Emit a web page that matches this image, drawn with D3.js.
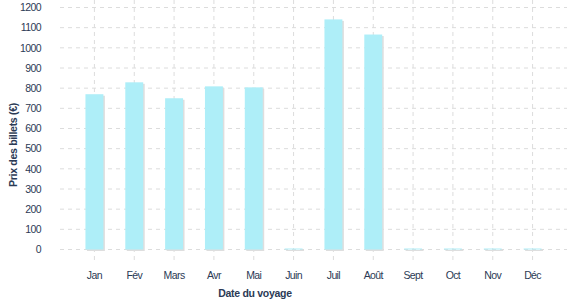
<!DOCTYPE html>
<html>
<head>
<meta charset="utf-8">
<script src="https://cdn.jsdelivr.net/npm/d3@7"></script>
<style>
  body { margin: 0; background: #fff; }
  text { font-family: "Liberation Sans", Arial, sans-serif; fill: #2b3a55; }
</style>
</head>
<body>
<div id="chart"></div>
<script>
// data
const months = ['Jan', 'Fév', 'Mars', 'Avr', 'Mai', 'Juin', 'Juil', 'Août', 'Sept', 'Oct', 'Nov', 'Déc']
const prices = [770, 829, 750, 809, 804, 5, 1141, 1066, 5, 5, 5, 5]
const yTicks = [0, 100, 200, 300, 400, 500, 600, 700, 800, 900, 1000, 1100, 1200]

const width = 577, height = 300
const margin = { top: 7, right: 10, bottom: 50, left: 60 }

const svg = d3.select('#chart')
  .append('svg')
  .attr('width', width)
  .attr('height', height)

const x = d3.scaleBand()
  .domain(months)
  .range([74.5, 552.5])
  .paddingInner(0.55)
  .paddingOuter(0.275)

const y = d3.scaleLinear()
  .domain([0, 1200])
  .range([249.5, 7.5])

// horizontal grid
svg.append('g')
  .selectAll('line')
  .data(yTicks)
  .join('line')
  .attr('x1', margin.left)
  .attr('x2', width - margin.right)
  .attr('y1', d => y(d))
  .attr('y2', d => y(d))
  .attr('stroke', '#dcdcdc')
  .attr('stroke-dasharray', '4,4')

// vertical grid (runs down past the axis as tick marks)
svg.append('g')
  .selectAll('line')
  .data(months)
  .join('line')
  .attr('x1', d => x(d) + x.bandwidth() / 2)
  .attr('x2', d => x(d) + x.bandwidth() / 2)
  .attr('y1', 0)
  .attr('y2', 263)
  .attr('stroke', '#dcdcdc')
  .attr('stroke-dasharray', '4,4')

// bar shadows
svg.append('g')
  .selectAll('rect')
  .data(prices)
  .join('rect')
  .attr('x', (d, i) => x(months[i]) + 1.5)
  .attr('y', d => y(d) + 1.5)
  .attr('width', x.bandwidth())
  .attr('height', d => y(0) - y(d))
  .attr('fill', '#dedede')

// bars
svg.append('g')
  .selectAll('rect')
  .data(prices)
  .join('rect')
  .attr('x', (d, i) => x(months[i]))
  .attr('y', d => y(d))
  .attr('width', x.bandwidth())
  .attr('height', d => y(0) - y(d))
  .attr('fill', '#aeeef8')

// y tick labels
svg.append('g')
  .selectAll('text')
  .data(yTicks)
  .join('text')
  .attr('x', 41)
  .attr('y', d => y(d))
  .attr('dy', '0.35em')
  .attr('text-anchor', 'end')
  .style('font-size', '10.5px')
  .style('letter-spacing', '-0.6px')
  .text(d => d)

// x tick labels
svg.append('g')
  .selectAll('text')
  .data(months)
  .join('text')
  .attr('x', d => x(d) + x.bandwidth() / 2)
  .attr('y', 279)
  .attr('text-anchor', 'middle')
  .style('font-size', '10.5px')
  .style('letter-spacing', '-0.6px')
  .text(d => d)

// axis titles
svg.append('text')
  .attr('transform', 'translate(17,145) rotate(-90)')
  .attr('text-anchor', 'middle')
  .style('font-size', '10.5px')
  .style('font-weight', 'bold')
  .style('letter-spacing', '-0.3px')
  .text('Prix des billets (€)')

svg.append('text')
  .attr('x', 255)
  .attr('y', 297)
  .attr('text-anchor', 'middle')
  .style('font-size', '10.5px')
  .style('font-weight', 'bold')
  .style('letter-spacing', '-0.3px')
  .text('Date du voyage')
</script>
</body>
</html>
